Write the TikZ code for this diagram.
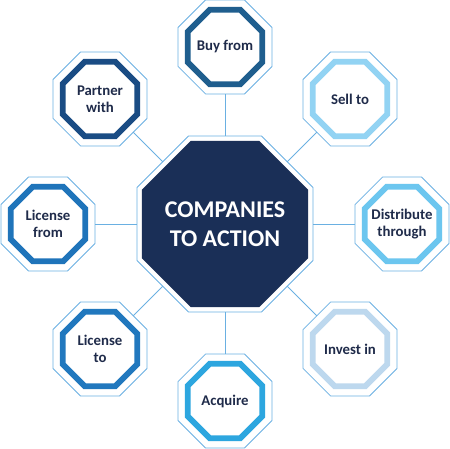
\documentclass[tikz,border=0pt]{standalone}
\usepackage{fontspec}
\setmainfont{Carlito}
\usetikzlibrary{shapes.geometric}
\definecolor{lineblue}{HTML}{6AB0E2}
\definecolor{navy}{HTML}{1A2F57}
\definecolor{txt}{HTML}{1F2B4A}
\definecolor{cBuy}{HTML}{1F5E8E}
\definecolor{cSell}{HTML}{92D3F3}
\definecolor{cDist}{HTML}{6CC6EF}
\definecolor{cInvest}{HTML}{BDD8EE}
\definecolor{cAcq}{HTML}{2DA6DF}
\definecolor{cLicTo}{HTML}{2178BE}
\definecolor{cLicFrom}{HTML}{1F74BA}
\definecolor{cPartner}{HTML}{1A4C84}
\tikzset{
  oct/.style={regular polygon, regular polygon sides=8, inner sep=0pt, outer sep=0pt},
  outline/.style={oct, minimum size=101.7pt, draw=lineblue, line width=0.8pt, fill=white},
  ring/.style={oct, minimum size=80.5pt, draw=#1, line width=5.8pt, fill=white},
  lbl/.style={font=\bfseries\fontsize{14.8}{17}\selectfont, text=txt, align=center, inner sep=0pt},
  bigoutline/.style={oct, minimum size=190.5pt, draw=lineblue, line width=0.8pt, fill=white},
  bigfill/.style={oct, minimum size=179.7pt, fill=navy},
  biglbl/.style={font=\bfseries\fontsize{24}{29.5}\selectfont, text=white, align=center, inner sep=0pt},
  conn/.style={draw=lineblue, line width=0.8pt}
}
\begin{document}
\begin{tikzpicture}[x=1pt,y=-1pt]
\useasboundingbox (0,0) rectangle (450,449);
% outer nodes
\foreach \n/\x/\y/\c in {buy/225/47/cBuy, sell/350/99/cSell, dist/402/224/cDist, invest/350/349/cInvest, acq/225/401/cAcq, licto/100/349/cLicTo, licfrom/48/224/cLicFrom, partner/100/99/cPartner}{
  \node[outline] (\n) at (\x,\y) {};
  \node[ring=\c] (\n r) at (\x,\y) {};
}
\node[lbl] (tbuy) at (buy) {Buy from};
\node[lbl] (tsell) at (sell) {Sell to};
\node[lbl] (tdist) at (dist) {Distribute\\through};
\node[lbl] (tinvest) at (invest) {Invest in};
\node[lbl] (tacq) at (acq) {Acquire};
\node[lbl] (tlicto) at (licto) {License\\to};
\node[lbl] (tlicfrom) at (licfrom) {License\\from};
\node[lbl] (tpartner) at (partner) {Partner\\with};
% center
\node[bigoutline] (c) at (225,224) {};
\node[bigfill] (cf) at (225,224) {};
\node[biglbl] (ct) at (225,224) {COMPANIES\\TO ACTION};
% connectors
\foreach \n in {buy,sell,dist,invest,acq,licto,licfrom,partner}{
  \draw[conn] (c) -- (\n);
}
\end{tikzpicture}
\end{document}
